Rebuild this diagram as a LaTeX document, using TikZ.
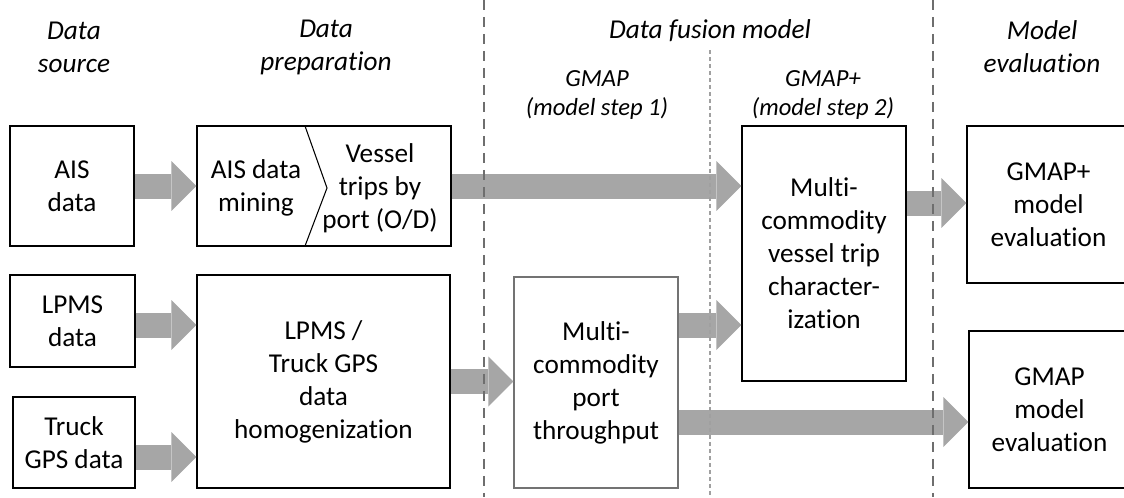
\documentclass[tikz,border=0pt]{standalone}
\usepackage{fontspec}
\setmainfont{Carlito}[RawFeature={-liga;-clig}]
\usetikzlibrary{arrows.meta,calc}
\definecolor{arrowgray}{HTML}{A6A6A6}
\definecolor{sepgray}{HTML}{6E6E6E}
\definecolor{stepgray}{HTML}{A0A0A0}
\newcommand{\bodysize}{\fontsize{15.5}{18.8}\selectfont}
\newcommand{\subsize}{\fontsize{14}{17}\selectfont}

\begin{document}
\begin{tikzpicture}[x=0.02cm,y=-0.02cm,
  box/.style={draw, line width=0.8pt, align=center, inner sep=0pt, font=\bodysize},
  txt/.style={align=center, inner sep=0pt, font=\bodysize},
  head/.style={align=center, inner sep=0pt, font=\bodysize\itshape},
  subhead/.style={align=center, inner sep=0pt, font=\subsize\itshape},
  bigarrow/.style={draw=arrowgray, line width=0.5cm, -{Triangle[length=0.5cm 0 0,width=1cm 0 0,line width=0pt 0 0]}},
  sepline/.style={sepgray, line width=1.1pt, dash pattern=on 0.2cm off 0.14cm},
  stepline/.style={stepgray, line width=0.6pt, dash pattern=on 0.08cm off 0.06cm}]
\useasboundingbox (0,0) rectangle (1124,497);

\node (hsource) at (74,47)  [head] {Data\\source};
\node (hprep)   at (326,47) [head] {Data\\preparation};
\node (hfusion) at (710,31) [head] {Data fusion model};
\node (hstep1)  at (597,95) [subhead] {GMAP\\(model step 1)};
\node (hstep2)  at (823,95) [subhead] {GMAP+\\(model step 2)};
\node (heval)   at (1042,47) [head] {Model\\evaluation};

\node (ais)   at (72,186)    [box, minimum width=2.48cm, minimum height=2.4cm] {AIS\\data};
\node (lpms)  at (72.5,321)  [box, minimum width=2.5cm, minimum height=1.84cm] {LPMS\\data};
\node (truck) at (74,442.5)  [box, minimum width=2.44cm, minimum height=1.82cm] {Truck\\GPS data};
\node (prep)  at (324,186)   [box, minimum width=5.08cm, minimum height=2.4cm] {};
\node (mine)  at (256,188)   [txt] {AIS data\\mining};
\node (trips) at (380,188)   [txt] {Vessel\\trips by\\port (O/D)};
\node (homog) at (323.5,381.5) [box, minimum width=5.06cm, minimum height=4.26cm] {LPMS /\\Truck GPS\\data\\homogenization};
\node (port)  at (596,382.5) [box, draw=black!55, minimum width=3.28cm, minimum height=4.22cm] {Multi-\\commodity\\port\\throughput};
\node (vchar) at (824,253.5) [box, minimum width=3.28cm, minimum height=5.1cm] {Multi-\\commodity\\vessel trip\\character-\\ization};
\node (gplus) at (1048.5,204.5) [box, minimum width=3.26cm, minimum height=3.14cm] {GMAP+\\model\\evaluation};
\node (gmap)  at (1049.5,409.5) [box, minimum width=3.22cm, minimum height=3.14cm] {GMAP\\model\\evaluation};
\draw[line width=0.6pt] (305,126) -- (327,188) -- (305,246);

\draw[bigarrow] (ais.east) -- (prep.west);
\draw[bigarrow] ($(lpms.east)+(0,4)$) -- ($(lpms.east -| homog.west)+(0,4)$);
\draw[bigarrow] ($(truck.east)+(0,14.5)$) -- ($(truck.east -| homog.west)+(0,14.5)$);
\draw[bigarrow] (prep.east) -- (prep.east -| vchar.west);
\draw[bigarrow] (homog.east) -- (homog.east -| port.west);
\draw[bigarrow] ($(port.east)+(0,-57.5)$) -- ($(port.east -| vchar.west)+(0,-57.5)$);
\draw[bigarrow] ($(port.east)+(0,39.5)$) -- ($(port.east -| gmap.west)+(0,39.5)$);
\draw[bigarrow] ($(vchar.east)+(0,-50.5)$) -- ($(vchar.east -| gplus.west)+(0,-50.5)$);

\draw[sepline] (484,0) -- (484,497);
\draw[stepline] (710,50) -- (710,497);
\draw[sepline] (933,0) -- (933,497);
\end{tikzpicture}
\end{document}
